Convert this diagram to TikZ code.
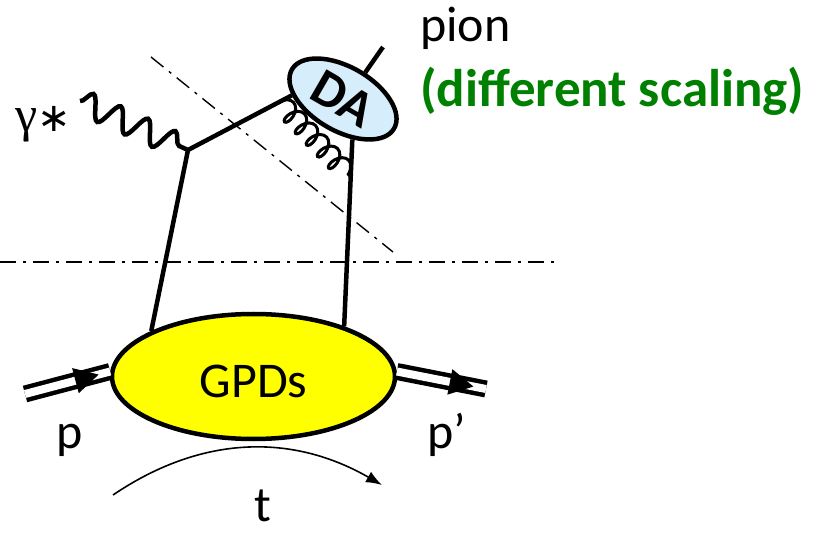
\documentclass[tikz,border=0pt]{standalone}
\usepackage{fontspec}
\setmainfont{Carlito}
\newfontfamily\greekfont{Liberation Serif}
\newfontfamily\symfont{DejaVu Sans}
\usepackage{xcolor}
\usepackage{tikz}
\usetikzlibrary{
    positioning,
    calc,
    arrows.meta,
    shapes.geometric,
    decorations.pathmorphing
}
\definecolor{dablue}{RGB}{214,238,252}
\definecolor{gpdyellow}{RGB}{255,255,0}
\definecolor{scalegreen}{RGB}{0,128,0}

\begin{document}
\begin{tikzpicture}[
    x=1pt, y=-1pt,
    blob/.style={
        ellipse,
        draw,
        line width=4.5pt,
        inner sep=0pt,
        align=center
    },
    txt/.style={font=\fontsize{50}{60}\selectfont, inner sep=0pt},
    quark/.style={line width=4.5pt},
    photon/.style={
        line width=4.5pt,
        decorate,
        decoration={snake, segment length=30pt, amplitude=12pt}
    },
    gluon/.style={
        line width=3pt,
        decorate,
        decoration={coil, aspect=0.6, segment length=16pt, amplitude=10pt}
    },
    cutline/.style={line width=1.4pt, dash pattern=on 16pt off 7pt on 3pt off 7pt},
    proton/.style={line width=4.5pt, double, double distance=8pt},
    flowtip/.style={
        isosceles triangle,
        isosceles triangle stretches,
        fill=black,
        inner sep=0pt,
        minimum width=26pt,
        minimum height=24pt,
        sloped
    },
    arrow/.style={-{Latex[length=16pt,width=12pt]}, line width=1.6pt}
]
\useasboundingbox (0,0) rectangle (819,534);

% blobs
\node[blob, fill=gpdyellow, minimum width=283pt, minimum height=125pt,
      txt, text height=42pt, text depth=0pt] (gpd) at (253.5,376.5) {GPDs};
\node[blob, fill=dablue, rotate=-30, minimum width=118pt, minimum height=64pt,
      txt, font=\fontsize{52}{56}\selectfont\bfseries] (da) at (343,99) {DA};

% free ends
\coordinate (v) at (188,150);
\coordinate (photonstart) at (80,101);
\coordinate (pionend) at (383,47);
\coordinate (pin) at (25,394);
\coordinate (pout) at (486,389);
\coordinate (tstart) at (113,495);
\coordinate (tend) at (382,485);
\coordinate (cutL) at (0,262);
\coordinate (cutR) at (555,262);
\coordinate (cutA) at (151,57);
\coordinate (cutB) at (393,252);

% cuts
\draw[cutline] (cutL) -- (cutR);
\draw[cutline] (cutA) -- (cutB);

% lines
\draw[photon] (photonstart) -- (v);
\draw[quark] (v) -- (da.206);
\draw[quark] (v) -- (gpd.156);
\draw[quark] (da.313) -- (gpd.29);
\draw[quark] (da.80) -- (pionend);
\coordinate (g1) at ($(v)!0.88!(da.206)$);
\coordinate (g2) at ($(da.313)!0.2!(gpd.29)$);
\draw[gluon] (g1) -- (g2);

% protons
\draw[proton] (pin) -- (gpd.178) node[flowtip, pos=0.68] (pinarrow) {};
\draw[proton] (gpd.2) -- (pout) node[flowtip, pos=0.68] (poutarrow) {};
\draw[arrow] (tstart) to[bend left=32] (tend);

% labels
\node[txt] (gamma) at (43,124) {{\greekfont γ}{\symfont\fontsize{40}{48}\selectfont ∗}};
\node[txt, anchor=base west] (pion) at (420,42) {pion};
\node[txt, anchor=base west, text=scalegreen, font=\fontsize{53}{60}\selectfont\bfseries] (scaling) at (420,107) {(different scaling)};
\node[txt, anchor=base] (p) at (70,448) {p};
\node[txt, anchor=base] (pprime) at (447,448) {p’};
\node[txt, anchor=base] (t) at (263,521) {t};

\end{tikzpicture}
\end{document}
